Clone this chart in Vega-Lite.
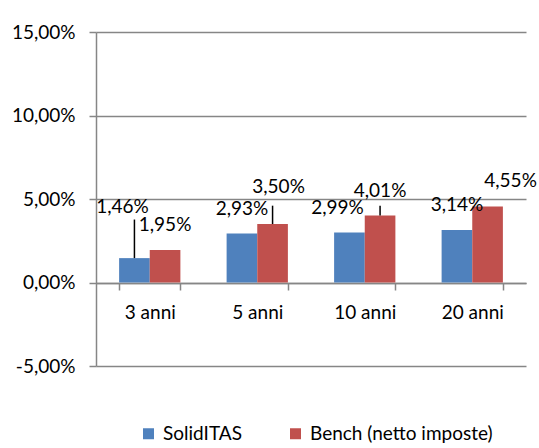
{
  "$schema": "https://vega.github.io/schema/vega-lite/v6.json",
  "width": 430,
  "height": 334,
  "autosize": {"type": "none"},
  "padding": {"left": 96, "top": 32, "right": 13, "bottom": 82},
  "background": "white",
  "config": {
    "view": {"stroke": null},
    "font": "Lato",
    "axis": {"labelFont": "Lato", "labelColor": "#000000", "labelFontSize": 19}
  },
  "data": {
    "values": [
      {"periodo": "3 anni", "serie": "SolidITAS", "valore": 1.46},
      {"periodo": "3 anni", "serie": "Bench (netto imposte)", "valore": 1.95},
      {"periodo": "5 anni", "serie": "SolidITAS", "valore": 2.93},
      {"periodo": "5 anni", "serie": "Bench (netto imposte)", "valore": 3.50},
      {"periodo": "10 anni", "serie": "SolidITAS", "valore": 2.99},
      {"periodo": "10 anni", "serie": "Bench (netto imposte)", "valore": 4.01},
      {"periodo": "20 anni", "serie": "SolidITAS", "valore": 3.14},
      {"periodo": "20 anni", "serie": "Bench (netto imposte)", "valore": 4.55}
    ]
  },
  "transform": [
    {"calculate": "replace(format(datum.valore, '.2f'), '.', ',') + '%'", "as": "etichetta"}
  ],
  "encoding": {
    "x": {
      "field": "periodo", "type": "nominal",
      "sort": ["3 anni", "5 anni", "10 anni", "20 anni"],
      "scale": {"paddingInner": 0.43, "paddingOuter": 0.215},
      "axis": {
        "title": null, "labelAngle": 0, "offset": -83,
        "domainColor": "#868686", "domainWidth": 1.5,
        "tickColor": "#868686", "tickWidth": 1.5, "tickSize": 7, "tickBand": "extent",
        "labelPadding": 13, "labelFontSize": 19
      }
    },
    "xOffset": {
      "field": "serie", "type": "nominal",
      "sort": ["SolidITAS", "Bench (netto imposte)"],
      "scale": {"paddingInner": 0, "paddingOuter": 0}
    },
    "y": {
      "field": "valore", "type": "quantitative",
      "scale": {"domain": [-5, 15], "nice": false},
      "axis": {
        "title": null, "values": [-5, 0, 5, 10, 15],
        "labelExpr": "replace(replace(format(datum.value, '.2f'), '.', ','), '−', '-') + '%'",
        "grid": true, "gridColor": "#868686", "gridWidth": 1.5,
        "domainColor": "#868686", "domainWidth": 1.5,
        "tickColor": "#868686", "tickWidth": 1.5, "tickSize": 7,
        "labelPadding": 14, "labelFontSize": 19
      }
    }
  },
  "layer": [
    {
      "mark": {"type": "bar"},
      "encoding": {
        "color": {
          "field": "serie", "type": "nominal",
          "sort": ["SolidITAS", "Bench (netto imposte)"],
          "scale": {"domain": ["SolidITAS", "Bench (netto imposte)"], "range": ["#4F81BD", "#C0504D"]},
          "legend": {
            "orient": "none", "legendX": 43, "legendY": 392, "direction": "horizontal",
            "title": null, "symbolType": "square", "symbolSize": 121, "symbolStrokeWidth": 0,
            "labelFontSize": 19, "labelColor": "#000000", "labelFont": "Lato", "labelLimit": 400,
            "columnPadding": 44, "labelOffset": 5
          }
        }
      }
    },
    {
      "transform": [{"filter": "datum.etichetta == '1,46%'"}],
      "mark": {"type": "rule", "color": "#000000", "strokeWidth": 1.5},
      "encoding": {"y2": {"datum": 3.77}}
    },
    {
      "transform": [{"filter": "datum.etichetta == '3,50%' || datum.etichetta == '4,01%'"}],
      "mark": {"type": "rule", "color": "#000000", "strokeWidth": 1.5},
      "encoding": {"y2": {"datum": 4.6}}
    },
    {
      "transform": [{"filter": "indexof(['1,95%','2,93%','3,14%','4,01%'], datum.etichetta) >= 0"}],
      "mark": {"type": "text", "fontSize": 19, "color": "#000000", "baseline": "middle", "dy": -25},
      "encoding": {"text": {"field": "etichetta"}}
    },
    {
      "transform": [{"filter": "datum.etichetta == '1,46%'"}],
      "mark": {"type": "text", "fontSize": 19, "color": "#000000", "baseline": "middle", "dy": -51, "dx": -12},
      "encoding": {"text": {"field": "etichetta"}}
    },
    {
      "transform": [{"filter": "datum.etichetta == '3,50%'"}],
      "mark": {"type": "text", "fontSize": 19, "color": "#000000", "baseline": "middle", "dy": -37, "dx": 6},
      "encoding": {"text": {"field": "etichetta"}}
    },
    {
      "transform": [{"filter": "datum.etichetta == '2,99%'"}],
      "mark": {"type": "text", "fontSize": 19, "color": "#000000", "baseline": "middle", "dy": -25, "dx": -12},
      "encoding": {"text": {"field": "etichetta"}}
    },
    {
      "transform": [{"filter": "datum.etichetta == '4,55%'"}],
      "mark": {"type": "text", "fontSize": 19, "color": "#000000", "baseline": "middle", "dy": -26, "dx": 23},
      "encoding": {"text": {"field": "etichetta"}}
    }
  ]
}
